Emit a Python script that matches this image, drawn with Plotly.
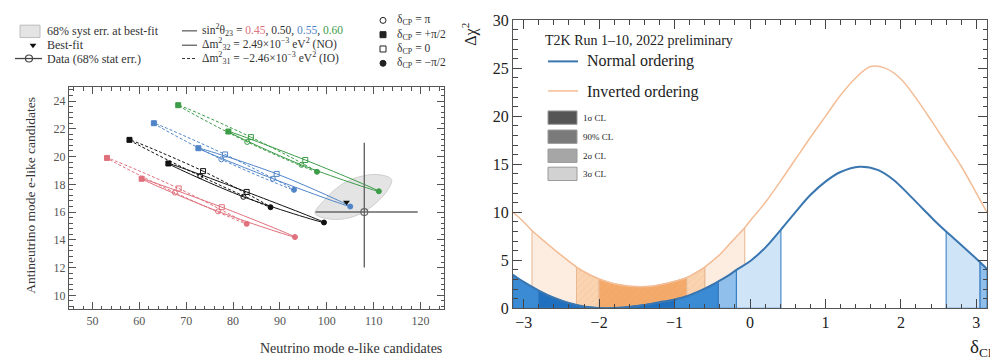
import numpy as np
import plotly.graph_objects as go

W, H = 990, 364
FONT = "Liberation Serif"

# ---------------- Left panel data ----------------
sin2_values = ["0.45", "0.50", "0.55", "0.60"]
sin2_colors = ["#e0707c", "#111111", "#4f85c8", "#3c9c48"]
delta_names = ["+π/2", "0", "−π/2", "π"]
delta_symbols = ["square", "square-open", "circle", "circle-open"]

# point order in each list: dCP = +pi/2, 0, -pi/2, pi
no_nu = [
    [60.5, 77.6, 93.2, 76.8],
    [66.2, 82.9, 99.4, 82.2],
    [72.6, 89.3, 105.0, 88.5],
    [79.0, 95.4, 111.1, 94.6],
]
no_nubar = [
    [18.4, 16.35, 14.2, 16.05],
    [19.5, 17.45, 15.25, 17.1],
    [20.6, 18.75, 16.4, 18.4],
    [21.8, 19.75, 17.5, 19.4],
]
io_nu = [
    [53.1, 68.4, 82.9, 67.6],
    [57.9, 73.6, 88.0, 73.0],
    [63.1, 78.3, 93.0, 77.5],
    [68.3, 83.8, 97.9, 83.0],
]
io_nubar = [
    [19.9, 17.7, 15.15, 17.4],
    [21.2, 18.95, 16.35, 18.6],
    [22.4, 20.15, 17.6, 19.8],
    [23.7, 21.4, 18.9, 21.05],
]

data_nu, data_nubar = [108.0], [16.0]
data_nu_err_lo, data_nu_err_hi = [10.4], [11.4]
data_nubar_err_lo, data_nubar_err_hi = [4.0], [5.0]

bestfit_nu, bestfit_nubar = [104.2], [16.7]

syst_nu = [97.5, 100.6, 105.0, 109.2, 112.8, 113.8, 110.9, 106.5, 102.8, 99.6]
syst_nubar = [15.9, 15.5, 15.6, 16.3, 17.5, 18.35, 18.7, 18.5, 17.9, 16.9]

# ---------------- Right panel data ----------------
no_delta = [-3.1416, -3.0, -2.8, -2.6, -2.4, -2.2, -2.0, -1.9, -1.7, -1.5, -1.3, -1.15,
            -1.0, -0.84, -0.6, -0.42, -0.3, -0.18, 0.0, 0.2, 0.41, 0.6, 0.8, 1.0, 1.2,
            1.45, 1.7, 1.9, 2.1, 2.3, 2.45, 2.6, 2.8, 3.05, 3.1416]
no_chi2 = [3.5, 2.75, 1.85, 1.1, 0.55, 0.18, 0.02, 0.0, 0.08, 0.25, 0.48, 0.7,
           0.92, 1.25, 2.05, 2.8, 3.35, 4.0, 4.9, 6.3, 8.2, 10.0, 11.8, 13.2, 14.2,
           14.75, 14.4, 13.4, 11.9, 10.3, 9.1, 8.0, 6.6, 4.8, 4.1]

io_delta = [-3.1416, -3.0, -2.89, -2.7, -2.5, -2.3, -2.15, -2.0, -1.8, -1.6, -1.45, -1.3,
            -1.1, -0.84, -0.7, -0.6, -0.4, -0.2, -0.07, 0.0, 0.2, 0.4, 0.6, 0.8, 1.0,
            1.2, 1.4, 1.6, 1.8, 2.0, 2.2, 2.4, 2.6, 2.8, 3.0, 3.1416]
io_chi2 = [10.0, 9.0, 8.1, 6.8, 5.5, 4.3, 3.6, 3.05, 2.55, 2.3, 2.25, 2.3,
           2.6, 3.2, 3.8, 4.3, 5.6, 7.3, 8.4, 9.1, 11.0, 13.2, 15.5, 17.8, 20.0,
           22.2, 24.0, 25.2, 25.0, 23.9, 21.9, 19.6, 17.2, 14.8, 12.0, 10.0]

# CL intervals (level index: 0=1sigma, 1=90%, 2=2sigma, 3=3sigma)
io_intervals = [(-2.89, -2.3, 3), (-0.6, -0.07, 3), (-2.3, -2.0, 2), (-0.84, -0.6, 2), (-2.0, -0.84, 1)]
no_intervals = [(-3.1416, -2.8, 1), (-2.8, -1.0, 0), (-1.0, -0.42, 1), (-0.42, -0.18, 2),
                (-0.18, 0.41, 3), (2.6, 3.05, 3), (3.05, 3.1416, 2)]

cl_names = ["1σ CL", "90% CL", "2σ CL", "3σ CL"]
cl_gray = ["#555555", "#7a7a7a", "#a6a6a6", "#d2d2d2"]
io_fill = ["#f3a060", "#f5a968", "#fad3b0", "#fdede0"]
no_fill = ["#1f6fbf", "#3a8ad4", "#8fbfea", "#cfe4f7"]

# ---------------- figure ----------------
def px(x):
    return x / W

def py(y):
    return 1 - y / H

fig = go.Figure()

# syst error ellipse
fig.add_trace(go.Scatter(x=syst_nu + [syst_nu[0]], y=syst_nubar + [syst_nubar[0]], mode="lines",
                         fill="toself", fillcolor="#e4e4e4",
                         line=dict(color="#cfcfcf", width=1, shape="spline", smoothing=1.0),
                         xaxis="x", yaxis="y", hoverinfo="skip", showlegend=False))

for i in range(4):
    c = sin2_colors[i]
    for nu, nb, dash in [(no_nu[i], no_nubar[i], "solid"), (io_nu[i], io_nubar[i], "3px,2px")]:
        fig.add_trace(go.Scatter(x=nu + [nu[0]], y=nb + [nb[0]], mode="lines",
                                 line=dict(color=c, width=1, dash=dash, shape="spline", smoothing=1.0),
                                 xaxis="x", yaxis="y", showlegend=False))
        fig.add_trace(go.Scatter(x=nu, y=nb, mode="markers",
                                 marker=dict(symbol=delta_symbols, color=c, size=5,
                                             line=dict(color=c, width=1)),
                                 xaxis="x", yaxis="y", showlegend=False))

fig.add_trace(go.Scatter(x=data_nu, y=data_nubar, mode="markers",
                         marker=dict(symbol="circle-open", size=7, color="#666666", line=dict(width=1.2)),
                         error_x=dict(type="data", symmetric=False, array=data_nu_err_hi,
                                      arrayminus=data_nu_err_lo, color="#666666", thickness=1.4, width=0),
                         error_y=dict(type="data", symmetric=False, array=data_nubar_err_hi,
                                      arrayminus=data_nubar_err_lo, color="#666666", thickness=1.4, width=0),
                         xaxis="x", yaxis="y", showlegend=False))
fig.add_trace(go.Scatter(x=bestfit_nu, y=bestfit_nubar, mode="markers",
                         marker=dict(symbol="triangle-down", size=6, color="#111111"),
                         xaxis="x", yaxis="y", showlegend=False))

# right panel: CL bands
def band(delta, chi2, a, b, color, line_color, hatch):
    xs = [a] + [d for d in delta if a <= d <= b] + [b]
    ys = [0] + [v for d, v in zip(delta, chi2) if a <= d <= b] + [0]
    kw = {}
    if hatch:
        kw["fillpattern"] = dict(shape="/", bgcolor=color, fgcolor=line_color, size=5, solidity=0.15)
    fig.add_trace(go.Scatter(x=xs + [xs[0]], y=ys + [ys[0]], mode="lines", fill="toself",
                             fillcolor=color, line=dict(color=line_color, width=1),
                             xaxis="x2", yaxis="y2", hoverinfo="skip", showlegend=False, **kw))

for a, b, lev in io_intervals:
    band(io_delta, io_chi2, a, b, io_fill[lev], "#e8b890", lev <= 2)
for a, b, lev in no_intervals:
    band(no_delta, no_chi2, a, b, no_fill[lev], "#2f78c0", lev == 0)

fig.add_trace(go.Scatter(x=io_delta, y=io_chi2, mode="lines",
                         line=dict(color="#f4bd96", width=1.5, shape="spline"),
                         xaxis="x2", yaxis="y2", showlegend=False))
fig.add_trace(go.Scatter(x=no_delta, y=no_chi2, mode="lines",
                         line=dict(color="#3a76b0", width=2, shape="spline"),
                         xaxis="x2", yaxis="y2", showlegend=False))

# overlay pixel axis for legend glyphs
fig.add_trace(go.Scatter(x=[33], y=[39], mode="markers",
                         marker=dict(symbol="triangle-down", size=6, color="#111111"),
                         xaxis="x3", yaxis="y3", showlegend=False, hoverinfo="skip"))
fig.add_trace(go.Scatter(x=[29], y=[53], mode="markers",
                         marker=dict(symbol="circle-open", size=7, color="#444444", line=dict(width=1.2)),
                         xaxis="x3", yaxis="y3", showlegend=False, hoverinfo="skip"))
fig.add_trace(go.Scatter(x=[383, 383, 383, 383], y=[13, 28, 43, 58], mode="markers",
                         marker=dict(symbol=["circle-open", "square", "square-open", "circle"],
                                     size=6, color="#222222", line=dict(width=1, color="#222222")),
                         xaxis="x3", yaxis="y3", showlegend=False, hoverinfo="skip"))

shapes = []
annotations = []

def line_px(x0, y0, x1, y1, color, width=1, dash="solid"):
    shapes.append(dict(type="line", xref="paper", yref="paper", x0=px(x0), y0=py(y0), x1=px(x1), y1=py(y1),
                       line=dict(color=color, width=width, dash=dash)))

def rect_px(x0, y0, x1, y1, fill, line):
    shapes.append(dict(type="rect", xref="paper", yref="paper", x0=px(x0), y0=py(y0), x1=px(x1), y1=py(y1),
                       fillcolor=fill, line=dict(color=line, width=1)))

def text_px(x, y, s, size, color="#333333", xanchor="left", angle=0, yanchor="middle"):
    annotations.append(dict(x=px(x), y=py(y), xref="paper", yref="paper", text=s, showarrow=False,
                            xanchor=xanchor, yanchor=yanchor, textangle=angle,
                            font=dict(family=FONT, size=size, color=color)))

# left legend
rect_px(20, 18, 40, 31, "#e4e4e4", "#bdbdbd")
text_px(45, 24, "68% syst err. at best-fit", 12)
text_px(45, 39, "Best-fit", 12)
line_px(15, 53, 42, 53, "#444444", 1.3)
text_px(45, 53, "Data (68% stat err.)", 12)

line_px(182, 24, 197, 24, "#333333", 1)
line_px(182, 39, 197, 39, "#333333", 1)
line_px(182, 53, 197, 53, "#333333", 1, "3px,2px")
text_px(200, 23, "sin<sup>2</sup>θ<sub>23</sub> = <span style='color:#e0707c'>0.45</span>, 0.50, "
        "<span style='color:#4f85c8'>0.55</span>, <span style='color:#3c9c48'>0.60</span>", 11.5)
text_px(200, 38, "Δm<sup>2</sup><sub>32</sub> = 2.49×10<sup>−3</sup> eV<sup>2</sup> (NO)", 11.5)
text_px(200, 52, "Δm<sup>2</sup><sub>31</sub> = −2.46×10<sup>−3</sup> eV<sup>2</sup> (IO)", 11.5)
for k, (nm, yy) in enumerate(zip(["π", "+π/2", "0", "−π/2"], [13, 28, 43, 58])):
    text_px(395, yy, "δ<sub>CP</sub> = " + nm, 11.5)

# left axis titles
text_px(31, 197, "Antineutrino mode e-like candidates", 13.5, angle=-90, xanchor="center")
text_px(444, 357, "Neutrino mode e-like candidates", 14, xanchor="right")

# right legend
text_px(543, 34, "T2K Run 1–10, 2022 preliminary", 14, color="#222222")
line_px(548, 56, 578, 56, "#3a76b0", 2)
text_px(585, 56, "Normal ordering", 16, color="#222222")
line_px(548, 87, 578, 87, "#f4bd96", 1.5)
text_px(585, 88, "Inverted ordering", 16, color="#222222")
for k, yy in enumerate([115, 135, 155, 174]):
    rect_px(548, yy - 7, 577, yy + 7, cl_gray[k], "#9a9a9a")
    text_px(581, yy, cl_names[k], 9, color="#222222")

text_px(470, 28, "Δχ<sup>2</sup>", 16, color="#222222", angle=-90, xanchor="center")
text_px(968, 357, "δ<sub>CP</sub>", 19, color="#222222")

ax_common = dict(showline=True, linecolor="#555555", linewidth=1, mirror="ticks", ticks="inside",
                 showgrid=False, zeroline=False)

fig.update_layout(
    width=W, height=H, margin=dict(l=0, r=0, t=0, b=0),
    paper_bgcolor="white", plot_bgcolor="rgba(0,0,0,0)",
    showlegend=False,
    xaxis=dict(domain=[px(69), px(444)], range=[45, 125], dtick=10, tick0=0, ticklen=7,
               tickcolor="#555555", minor=dict(ticks="inside", ticklen=3.5, dtick=2, tickcolor="#555555"),
               tickfont=dict(family=FONT, size=12, color="#555555"), anchor="y", **ax_common),
    yaxis=dict(domain=[py(316), py(83)], range=[9, 25], dtick=2, tick0=0, ticklen=7,
               tickcolor="#555555", minor=dict(ticks="inside", ticklen=3.5, dtick=0.4, tickcolor="#555555"),
               tickfont=dict(family=FONT, size=12, color="#555555"), anchor="x", **ax_common),
    xaxis2=dict(domain=[px(513), px(987)], range=[-np.pi, np.pi], dtick=1, tick0=0, ticklen=9,
                tickcolor="#444444", minor=dict(ticks="inside", ticklen=4.5, dtick=0.2, tickcolor="#444444"),
                tickfont=dict(family=FONT, size=16, color="#222222"), anchor="y2", **ax_common),
    yaxis2=dict(domain=[py(315), py(13)], range=[0, 30], dtick=5, tick0=0, ticklen=9,
                tickcolor="#444444", minor=dict(ticks="inside", ticklen=4.5, dtick=1, tickcolor="#444444"),
                tickfont=dict(family=FONT, size=16, color="#222222"), anchor="x2", **ax_common),
    xaxis3=dict(domain=[0, 1], range=[0, W], visible=False, anchor="y3"),
    yaxis3=dict(domain=[0, 1], range=[H, 0], visible=False, anchor="x3"),
    shapes=shapes, annotations=annotations,
)

fig.write_html("out.html", config={"displayModeBar": False},
               post_script="document.body.style.margin='0';document.body.style.overflow='hidden';")
